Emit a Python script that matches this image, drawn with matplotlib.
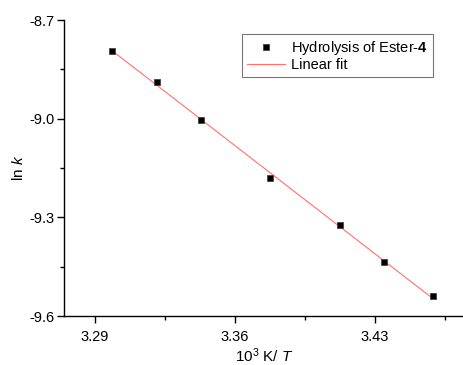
import matplotlib
matplotlib.use('Agg')
import matplotlib.pyplot as plt
import numpy as np

plt.rcParams['font.family'] = ['Liberation Sans', 'DejaVu Sans']
plt.rcParams['mathtext.fontset'] = 'custom'
plt.rcParams['mathtext.it'] = 'Liberation Sans:italic'
plt.rcParams['mathtext.rm'] = 'Liberation Sans'
plt.rcParams['mathtext.bf'] = 'Liberation Sans:bold'

# 1000/T against ln k for the ester hydrolysis runs
inv_T = [3.2985, 3.3208, 3.3432, 3.3775, 3.4124, 3.4344, 3.4589]
ln_k = [-8.793, -8.889, -9.003, -9.181, -9.324, -9.435, -9.540]

xticks = [3.29, 3.36, 3.43]
yticks = [-9.6, -9.3, -9.0, -8.7]

slope, icept = np.polyfit(inv_T, ln_k, 1)
xfit = np.array([inv_T[0], inv_T[-1]])
yfit = slope * xfit + icept

fig = plt.figure(figsize=(4.64, 3.65), dpi=100)
ax = fig.add_axes([64/464, 1 - 316/365, 1 - 64/464, (316 - 20)/365])

ax.plot(inv_T, ln_k, 's', color='black', ms=4.5, mew=0.6, mec='#444444',
        label='Hydrolysis of Ester-$\\mathbf{4}$', zorder=3)
ax.plot(xfit, yfit, '-', color='#ff7070', lw=0.8, label='Linear fit')

ax.set_xlim(3.2745, 3.4745)
ax.set_ylim(-9.6, -8.7)
ax.set_xticks(xticks)
ax.set_yticks(yticks)
ax.set_yticks([-9.45, -9.15, -8.85], minor=True)
ax.set_xticks([3.325, 3.395, 3.465], minor=True)
ax.set_xticklabels(['%.2f' % v for v in xticks])
ax.set_yticklabels(['%.1f' % v for v in yticks])

for s in ['top', 'right']:
    ax.spines[s].set_visible(False)
for s in ['left', 'bottom']:
    ax.spines[s].set_linewidth(1.0)
ax.tick_params(which='major', direction='out', length=5, width=1, labelsize=10.5)
ax.tick_params(axis='x', which='major', pad=5)
ax.tick_params(axis='y', which='major', pad=2)
ax.tick_params(which='minor', direction='out', length=3, width=1)

ax.set_xlabel('10$^3$ K/ $\\it{T}$', fontsize=11, labelpad=2)
ax.set_ylabel('ln $\\it{k}$', fontsize=11, labelpad=2)

leg = ax.legend(loc='center', fontsize=10.5,
                frameon=True, fancybox=False, edgecolor='#555555',
                handlelength=2.6, borderpad=0.35, labelspacing=0.1, handletextpad=0.4,
                borderaxespad=0)
leg.get_frame().set_linewidth(0.8)
leg.set_bbox_to_anchor((242/464, 1 - 77/365, (433 - 242)/464, (77 - 34)/365), transform=fig.transFigure)

fig.savefig('out.png', dpi=100)
